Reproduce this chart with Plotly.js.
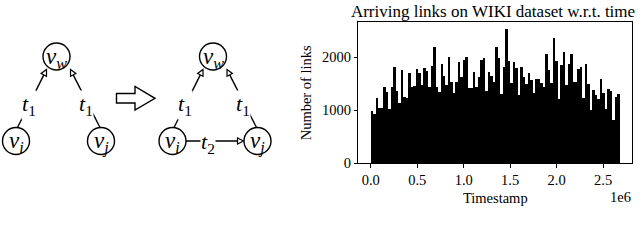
<!DOCTYPE html>
<html>
<head>
<meta charset="utf-8">
<script src="https://cdn.plot.ly/plotly-3.0.1.min.js"></script>
<style>html,body{margin:0;padding:0;background:#fff;}#chart{width:640px;height:240px;}</style>
</head>
<body>
<div id="chart"></div>
<script>
// ---------- Histogram data (links per time bin) ----------
const binStart = 13400;      // centre of first bin (timestamp)
const binWidth = 26800;      // bin width (timestamp units)
const linkCounts = [
  993, 930, 1226, 1037, 1037, 1445, 1340, 1019, 1445, 1823,
  1364, 1132, 1760, 1245, 1226, 1710, 1434, 1459, 1773, 1700,
  1475, 1800, 1745, 1445, 1835, 2200, 1445, 1350, 1870, 1650,
  1475, 2010, 1530, 1330, 1530, 1900, 1635, 1950, 2000, 1425,
  1415, 1715, 1445, 1620, 1950, 1980, 1370, 1715, 1650, 1540,
  2200, 1980, 1305, 1820, 2530, 1935, 1510, 1900, 1790, 1290,
  1820, 1635, 1490, 1700, 1570, 1330, 1585, 1585, 1510, 1445,
  2060, 1760, 1510, 2360, 1935, 1205, 1860, 2090, 1475, 1870,
  2055, 1530, 1530, 1785, 1820, 1225, 1870, 1500, 1005, 1385,
  1290, 1205, 1590, 1320, 1020, 1400, 1370, 817, 1245, 1305
];
const xTickVals = [0, 500000, 1000000, 1500000, 2000000, 2500000];
const xTickText = ['0.0', '0.5', '1.0', '1.5', '2.0', '2.5'];
const yTickVals = [0, 1000, 2000];
const yTickText = ['0', '1000', '2000'];
const chartTitle = 'Arriving links on WIKI dataset w.r.t. time';
const xTitle = 'Timestamp';
const yTitle = 'Number of links';
const offsetText = '1e6';

// ---------- Diagram (schematic, pixel layout) ----------
const R = 13.5;
const nodes = [
  {cx: 56.5, cy: 56.5, sub: 'w'},
  {cx: 16,   cy: 141,  sub: 'i'},
  {cx: 101,  cy: 141,  sub: 'j'},
  {cx: 213,  cy: 56.5, sub: 'w'},
  {cx: 172.5,cy: 141,  sub: 'i'},
  {cx: 257.5,cy: 141,  sub: 'j'}
];
const edges = [
  {p0: [17.5, 127.5], p1: [46.5, 69.5],  lab: '1', lx: 28.5,  ly: 105},
  {p0: [100, 127.5],  p1: [70.5, 69.5],  lab: '1', lx: 86,    ly: 105},
  {p0: [174, 127.5],  p1: [203, 69.5],   lab: '1', lx: 185,   ly: 105},
  {p0: [256.5, 127.5],p1: [227, 69.5],   lab: '1', lx: 242.5, ly: 105},
  {p0: [186, 141],    p1: [243.5, 141],  lab: '2', lx: 208,   ly: 143}
];
const blockArrow = 'M116.5,93.5 L135,93.5 L135,86.5 L155,98.3 L135,110 L135,103 L116.5,103 Z';

const SERIF = 'Liberation Serif, Times New Roman, serif';
const MATH = 'Liberation Serif, Times New Roman, serif';
const LW = 1.4;

const shapes = [];
const annotations = [];

edges.forEach(e => {
  const dx = e.p1[0] - e.p0[0], dy = e.p1[1] - e.p0[1];
  const L = Math.hypot(dx, dy);
  const ux = dx / L, uy = dy / L;
  const nx = -uy, ny = ux;
  const hl = 6, hw = 3;
  const bx = e.p1[0] - ux * hl, by = e.p1[1] - uy * hl;
  shapes.push({type: 'line', xref: 'x2', yref: 'y2', x0: e.p0[0], y0: e.p0[1], x1: bx, y1: by,
               line: {color: 'black', width: LW}});
  shapes.push({type: 'path', xref: 'x2', yref: 'y2',
               path: `M${e.p1[0]},${e.p1[1]} L${bx + nx * hw},${by + ny * hw} L${bx - nx * hw},${by - ny * hw} Z`,
               line: {color: 'black', width: 1.2}, fillcolor: 'white'});
  annotations.push({xref: 'x2', yref: 'y2', x: e.lx, y: e.ly, showarrow: false,
                    text: `<i>t</i><sub>${e.lab}</sub>`, bgcolor: 'white', borderpad: 0,
                    font: {family: MATH, size: 22, color: 'black'}});
});
nodes.forEach(n => {
  shapes.push({type: 'circle', xref: 'x2', yref: 'y2', x0: n.cx - R, x1: n.cx + R, y0: n.cy - R, y1: n.cy + R,
               line: {color: 'black', width: LW}, fillcolor: 'white'});
  annotations.push({xref: 'x2', yref: 'y2', x: n.cx, y: n.cy + 1, showarrow: false,
                    text: `<i>v</i><sub><i>${n.sub}</i></sub>`,
                    font: {family: MATH, size: 23, color: 'black'}});
});
shapes.push({type: 'path', xref: 'x2', yref: 'y2', path: blockArrow, line: {color: 'black', width: LW}, fillcolor: 'white'});

// chart annotations
annotations.push({xref: 'paper', yref: 'paper', x: 632.5 / 640, y: 1 - 197 / 240, xanchor: 'right', yanchor: 'middle',
                  showarrow: false, text: offsetText, font: {family: SERIF, size: 14.5, color: 'black'}});

const trace = {
  type: 'bar',
  x0: binStart, dx: binWidth, y: linkCounts,
  marker: {color: 'black', line: {width: 0}},
  hoverinfo: 'skip', xaxis: 'x', yaxis: 'y'
};
const dummy = {type: 'scatter', x: [], y: [], xaxis: 'x2', yaxis: 'y2', hoverinfo: 'skip', showlegend: false};

const tickFont = {family: SERIF, size: 14.5, color: 'black'};
const layout = {
  width: 640, height: 240,
  margin: {l: 0, r: 0, t: 0, b: 0},
  paper_bgcolor: 'white', plot_bgcolor: 'rgba(0,0,0,0)',
  showlegend: false, bargap: 0,
  title: {text: chartTitle, font: {family: SERIF, size: 17, color: 'black'},
          xref: 'paper', yref: 'paper', x: 493 / 640, y: 1 - 11 / 240, xanchor: 'center', yanchor: 'middle'},
  xaxis: {
    domain: [358.3 / 640, 632.3 / 640], anchor: 'y',
    range: [-134000, 2814000], autorange: false,
    tickmode: 'array', tickvals: xTickVals, ticktext: xTickText,
    ticks: 'outside', ticklen: 3.5, tickwidth: 1, tickcolor: 'black',
    showline: true, mirror: true, linecolor: 'black', linewidth: 1,
    showgrid: false, zeroline: false, tickfont: tickFont,
    title: {text: xTitle, font: tickFont, standoff: 5}
  },
  yaxis: {
    domain: [1 - 163.3 / 240, 1 - 22.3 / 240], anchor: 'x',
    range: [0, 2657], autorange: false,
    tickmode: 'array', tickvals: yTickVals, ticktext: yTickText,
    ticks: 'outside', ticklen: 3.5, tickwidth: 1, tickcolor: 'black',
    showline: true, mirror: true, linecolor: 'black', linewidth: 1,
    showgrid: false, zeroline: false, tickfont: tickFont,
    title: {text: yTitle, font: tickFont, standoff: 6}
  },
  xaxis2: {domain: [0, 1], range: [0, 640], autorange: false, visible: false, anchor: 'y2', fixedrange: true},
  yaxis2: {domain: [0, 1], range: [240, 0], autorange: false, visible: false, anchor: 'x2', fixedrange: true},
  shapes: shapes,
  annotations: annotations
};
Plotly.newPlot('chart', [trace, dummy], layout, {staticPlot: true, displayModeBar: false});
</script>
</body>
</html>
